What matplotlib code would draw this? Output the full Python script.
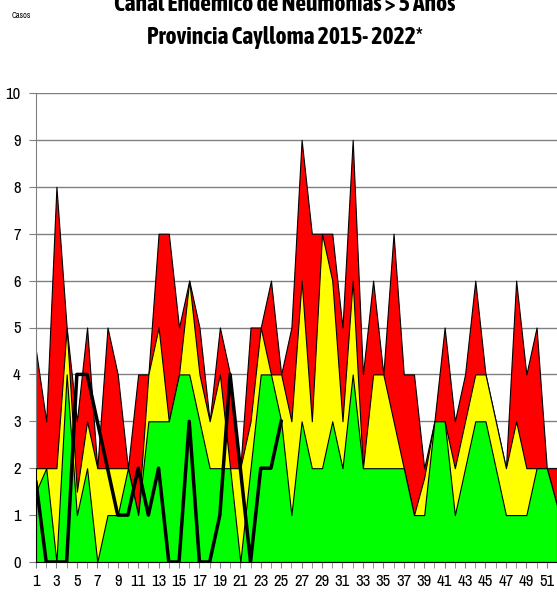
import matplotlib
matplotlib.use('Agg')
import matplotlib.pyplot as plt
from matplotlib import font_manager
import matplotlib.patheffects as pe
import numpy as np

# semanas epidemiologicas
semanas = list(range(1, 53))

# zona de epidemia (techo rojo)
epidemia = [4.5, 3, 8, 5, 3, 5, 2, 5, 4, 2, 4, 4, 7, 7, 5, 6, 5, 3, 5, 4,
            2, 5, 5, 6, 4, 5, 9, 7, 7, 7, 5, 9, 4, 6, 4, 7, 4, 4, 2, 3,
            5, 3, 4, 6, 4, 3, 2, 6, 4, 5, 2, 2]
# zona de alarma (techo amarillo)
alarma = [2, 2, 2, 5, 1.5, 3, 2, 2, 2, 2, 1, 4, 5, 3, 4, 6, 4, 3, 4, 2,
          2, 3, 5, 4, 4, 3, 6, 3, 7, 6, 3, 6, 2, 4, 4, 3, 2, 1, 1.8, 3,
          3, 2, 3, 4, 4, 3, 2, 3, 2, 2, 2, 1.2]
# zona de seguridad (techo verde)
seguridad = [1.5, 2, 0, 4, 1, 2, 0, 1, 1, 2, 1, 3, 3, 3, 4, 4, 3, 2, 2, 2,
             0, 2, 4, 4, 3, 1, 3, 2, 2, 3, 2, 4, 2, 2, 2, 2, 2, 1, 1, 3,
             3, 1, 2, 3, 3, 2, 1, 1, 1, 2, 2, 1.2]
# casos 2022
casos_2022 = [1.7, 0, 0, 0, 4, 4, 3, 2, 1, 1, 2, 1, 2, 0, 0, 3, 0, 0, 1, 4,
              2, 0, 2, 2, 3]

# buscar una fuente estrecha (tipo Arial Narrow) si existe
fuentes = [f for f in font_manager.fontManager.ttflist if 'Narrow' in f.name or 'Condensed' in f.name]
fuentes.sort(key=lambda f: f.name)
efecto = []
if fuentes:
    narrow = [fuentes[0].name, 'DejaVu Sans']
    negritas = [f for f in fuentes if 'bold' in f.fname.lower() and 'italic' not in f.fname.lower()]
    if negritas:
        prop_titulo = font_manager.FontProperties(fname=negritas[0].fname)
    else:
        # sin version negrita: engrosar con un trazo
        prop_titulo = font_manager.FontProperties(family=narrow)
        efecto = [pe.withStroke(linewidth=1.6, foreground='black')]
else:
    narrow = ['Liberation Sans', 'DejaVu Sans']
    prop_titulo = font_manager.FontProperties(family=narrow, weight='bold')

fig = plt.figure(figsize=(5.57, 5.95), dpi=100)
ax = fig.add_axes([36 / 557, 1 - 562 / 595, 1 - 36 / 557, (562 - 93) / 595])

x = np.array(semanas)
ax.fill_between(x, 0, epidemia, facecolor='#FF0000', edgecolor='black', linewidth=0.8, zorder=2)
ax.fill_between(x, 0, alarma, facecolor='#FFFF00', edgecolor='black', linewidth=0.8, zorder=3)
ax.fill_between(x, 0, seguridad, facecolor='#00FF00', edgecolor='black', linewidth=0.8, zorder=4)
ax.plot(semanas[:len(casos_2022)], casos_2022, color='black', linewidth=2.5, zorder=5)

ax.set_xlim(1, 52)
ax.set_ylim(0, 10)
ax.set_yticks(range(0, 11))
ax.set_xticks(semanas, minor=True)
ax.set_xticks(range(1, 53, 2))
ax.yaxis.grid(True, color='#808080', linewidth=1, zorder=0)
ax.set_axisbelow(True)

for s in ['top', 'right']:
    ax.spines[s].set_visible(False)
ax.spines['left'].set_color('#808080')
ax.spines['bottom'].set_color('black')
ax.spines['bottom'].set_zorder(6)

ax.tick_params(axis='y', length=5, color='#808080', pad=6)
ax.tick_params(axis='x', which='both', length=4, color='#808080', pad=5)
for lab in ax.get_xticklabels() + ax.get_yticklabels():
    lab.set_family(narrow)
    lab.set_fontsize(12)

fig.text(12 / 557, 1 - 18 / 595, 'Casos', fontsize=6, family=narrow)
t1 = fig.text(0.512, 1 - 11 / 595, 'Canal Endemico de Neumonias > 5 Años', ha='center', va='baseline',
              fontproperties=prop_titulo, fontsize=23, path_effects=efecto)
t2 = fig.text(0.512, 1 - 44 / 595, 'Provincia Caylloma 2015- 2022*', ha='center', va='baseline',
              fontproperties=prop_titulo, fontsize=23, path_effects=efecto)

# ajustar el titulo al ancho de la referencia (segunda linea)
fig.canvas.draw()
ancho = t2.get_window_extent().width
f = 275 / ancho
t1.set_fontsize(t1.get_fontsize() * f)
t2.set_fontsize(t2.get_fontsize() * f)

fig.savefig('out.png', dpi=100)
